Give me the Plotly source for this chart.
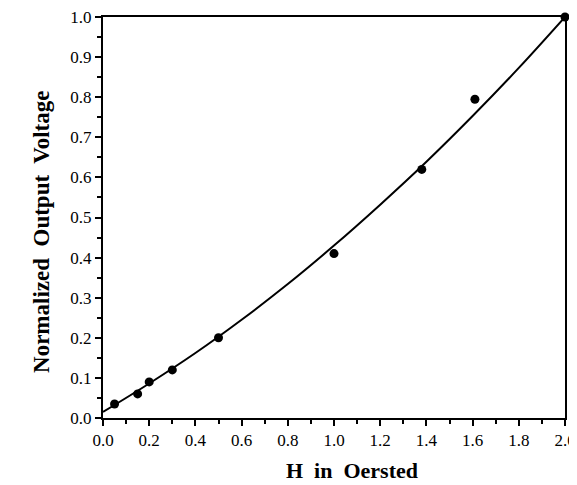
import plotly.graph_objects as go

h_oe = [0.05, 0.15, 0.2, 0.3, 0.5, 1.0, 1.38, 1.61, 2.0]
v_norm = [0.035, 0.06, 0.09, 0.12, 0.2, 0.41, 0.62, 0.795, 1.0]

fit_h = [0.0, 0.2, 0.4, 0.6, 0.8, 1.0, 1.2, 1.4, 1.6, 1.8, 2.0]
fit_v = [0.015, 0.086, 0.162, 0.245, 0.334, 0.43, 0.532, 0.639, 0.753, 0.873, 1.0]

x_ticks = [0.0, 0.2, 0.4, 0.6, 0.8, 1.0, 1.2, 1.4, 1.6, 1.8, 2.0]
y_ticks = [0.0, 0.1, 0.2, 0.3, 0.4, 0.5, 0.6, 0.7, 0.8, 0.9, 1.0]

fig = go.Figure()
fig.add_trace(go.Scatter(x=fit_h, y=fit_v, mode="lines",
                         line=dict(color="black", width=2, shape="spline"),
                         showlegend=False, cliponaxis=False))
fig.add_trace(go.Scatter(x=h_oe, y=v_norm, mode="markers",
                         marker=dict(color="black", size=9),
                         showlegend=False, cliponaxis=False))

font_family = "Liberation Serif, Times New Roman, serif"
axis_common = dict(
    ticks="outside", ticklen=6, tickwidth=2, tickcolor="black",
    showline=True, linecolor="black", linewidth=2, mirror=True,
    showgrid=False, zeroline=False, automargin=False,
    ticklabeloverflow="allow",
    tickfont=dict(size=17, family=font_family),
)
fig.update_layout(
    width=569, height=477,
    margin=dict(l=95, r=12, t=9, b=67),
    paper_bgcolor="white", plot_bgcolor="white",
    font=dict(family=font_family, color="black"),
    xaxis=dict(range=[0, 2.0], tickvals=x_ticks,
               ticktext=[f"{t:.1f}" for t in x_ticks],
               minor=dict(dtick=0.1, ticks="outside", ticklen=4, tickwidth=1.5, tickcolor="black"),
               **axis_common),
    yaxis=dict(range=[0, 1.0], tickvals=y_ticks,
               ticktext=[f"{t:.1f}" for t in y_ticks],
               minor=dict(dtick=0.05, ticks="outside", ticklen=4, tickwidth=1.5, tickcolor="black"),
               **axis_common),
    annotations=[
        dict(text="<b>H  in  Oersted</b>", xref="paper", yref="paper",
             x=0.539, y=-0.13, xanchor="center", yanchor="middle", showarrow=False,
             borderpad=0,
             font=dict(size=22, family=font_family, color="black")),
        dict(text="<b>Normalized  Output  Voltage</b>", xref="paper", yref="paper",
             x=-0.132, y=0.464, xanchor="center", yanchor="middle", showarrow=False,
             textangle=-90,
             font=dict(size=23, family=font_family, color="black")),
    ],
)
fig.write_html("out.html")
